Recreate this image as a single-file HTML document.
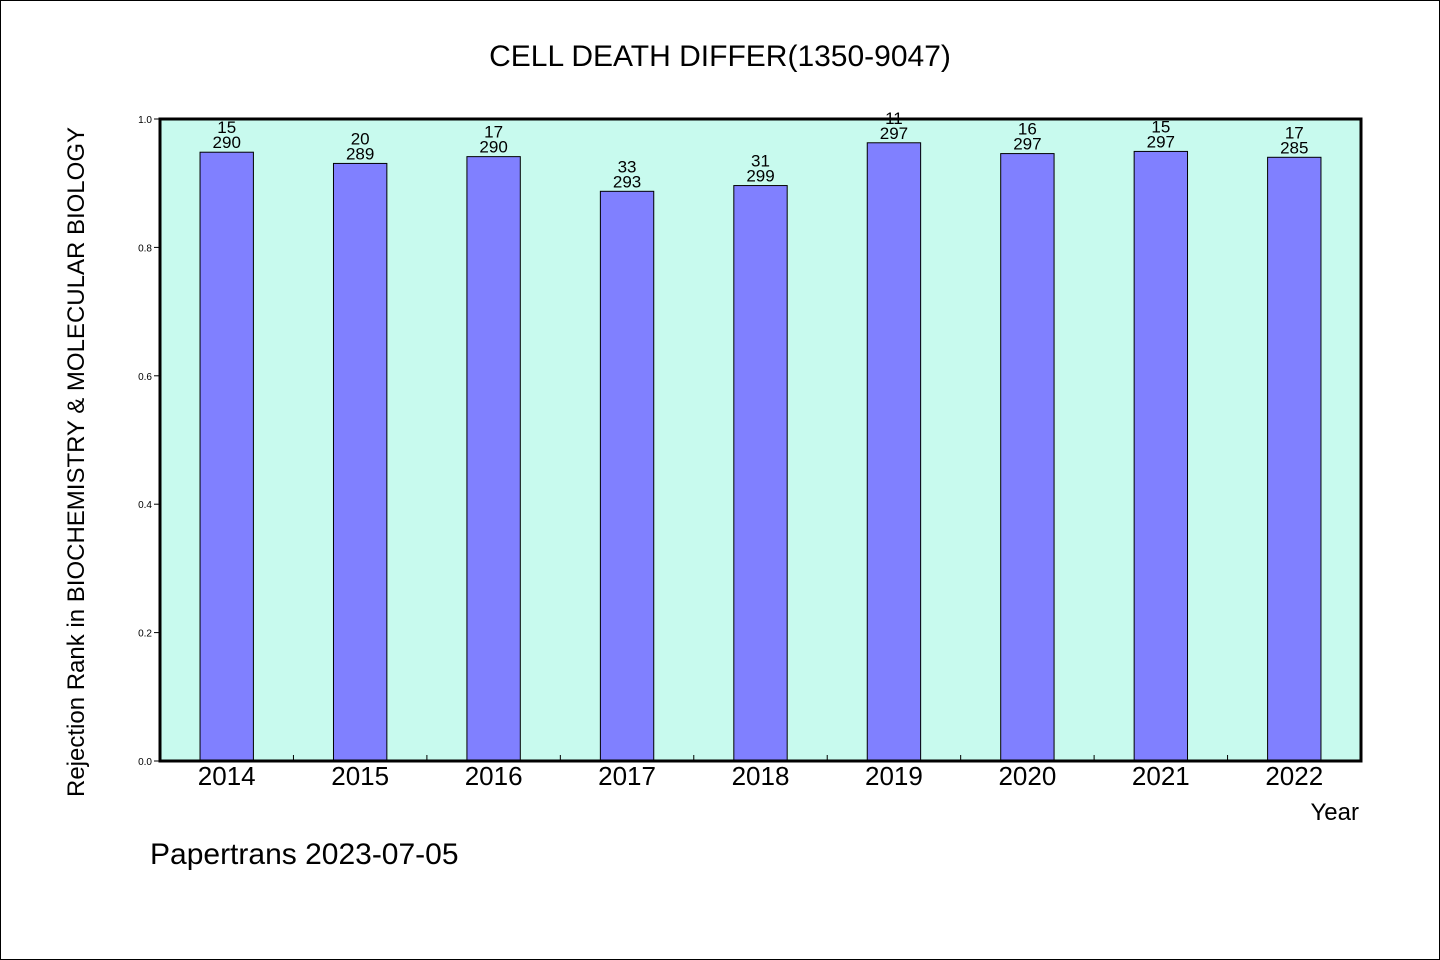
<!DOCTYPE html>
<html><head><meta charset="utf-8"><style>
html,body{margin:0;padding:0;background:#fff}
svg{display:block}
text{font-family:"WenQuanYi Zen Hei","Liberation Sans",sans-serif;fill:#000}
</style></head><body>
<svg id="chart" width="1440" height="960">
<rect x="0.5" y="0.5" width="1439" height="959" fill="#fff" stroke="#000"/>
<text x="720" y="66" font-size="30" text-anchor="middle">CELL DEATH DIFFER(1350-9047)</text>
<rect x="160" y="119" width="1201" height="642" fill="#c8faee"/>
<g id="bars"></g>
<rect x="160" y="119" width="1201" height="642" fill="none" stroke="#000" stroke-width="3"/>
<g id="axes"></g>
<text transform="translate(84,462) rotate(-90)" font-size="24" text-anchor="middle">Rejection Rank in BIOCHEMISTRY &amp; MOLECULAR BIOLOGY</text>
<text x="1359" y="820" font-size="24" text-anchor="end">Year</text>
<text x="150" y="864" font-size="30">Papertrans 2023-07-05</text>
</svg>
<script>
const years=["2014","2015","2016","2017","2018","2019","2020","2021","2022"];
const ranks=[15,20,17,33,31,11,16,15,17];
const totals=[290,289,290,293,299,297,297,297,285];
const yTicks=["0.0","0.2","0.4","0.6","0.8","1.0"];
const NS="http://www.w3.org/2000/svg";
const X0=160,X1=1361,Y0=761,Y1=119;
const band=(X1-X0)/years.length;
const xc=i=>X0+band*(i+0.5);
const y=v=>Y0-v*(Y0-Y1);
function mk(tag,attrs,parent,text){const e=document.createElementNS(NS,tag);for(const k in attrs)e.setAttribute(k,attrs[k]);if(text!==undefined)e.textContent=text;parent.appendChild(e);return e;}
const bars=document.getElementById('bars'),axes=document.getElementById('axes');
years.forEach((yr,i)=>{
  const v=1-ranks[i]/totals[i];
  const w=band*0.4;
  const r=mk('rect',{x:xc(i)-w/2,y:y(v),width:w,height:Y0-y(v),fill:'#8080ff',stroke:'#000','stroke-width':1},bars);
  
  
  const t1=mk('text',{x:xc(i),y:y(v)-4,'font-size':17,'text-anchor':'middle'},bars,String(totals[i]));
  
  
  const t2=mk('text',{x:xc(i),y:y(v)-19,'font-size':17,'text-anchor':'middle'},bars,String(ranks[i]));
  
  
  const xl=mk('text',{x:xc(i),y:785,'font-size':26,'text-anchor':'middle'},axes,yr);
  
  
  if(i>0){
    const tk=mk('line',{x1:X0+band*i,x2:X0+band*i,y1:Y0,y2:Y0-6,stroke:'#000','stroke-width':1},axes);
    
    
  }
});
yTicks.forEach((lab,j)=>{
  const v=parseFloat(lab);
  const tk=mk('line',{x1:X0-6,x2:X0,y1:y(v),y2:y(v),stroke:'#000','stroke-width':1},axes);
  
  
  const tl=mk('text',{x:X0-8,y:y(v)+4,'font-size':10,'text-anchor':'end'},axes,lab);
  
  
});
</script>
</body></html>
